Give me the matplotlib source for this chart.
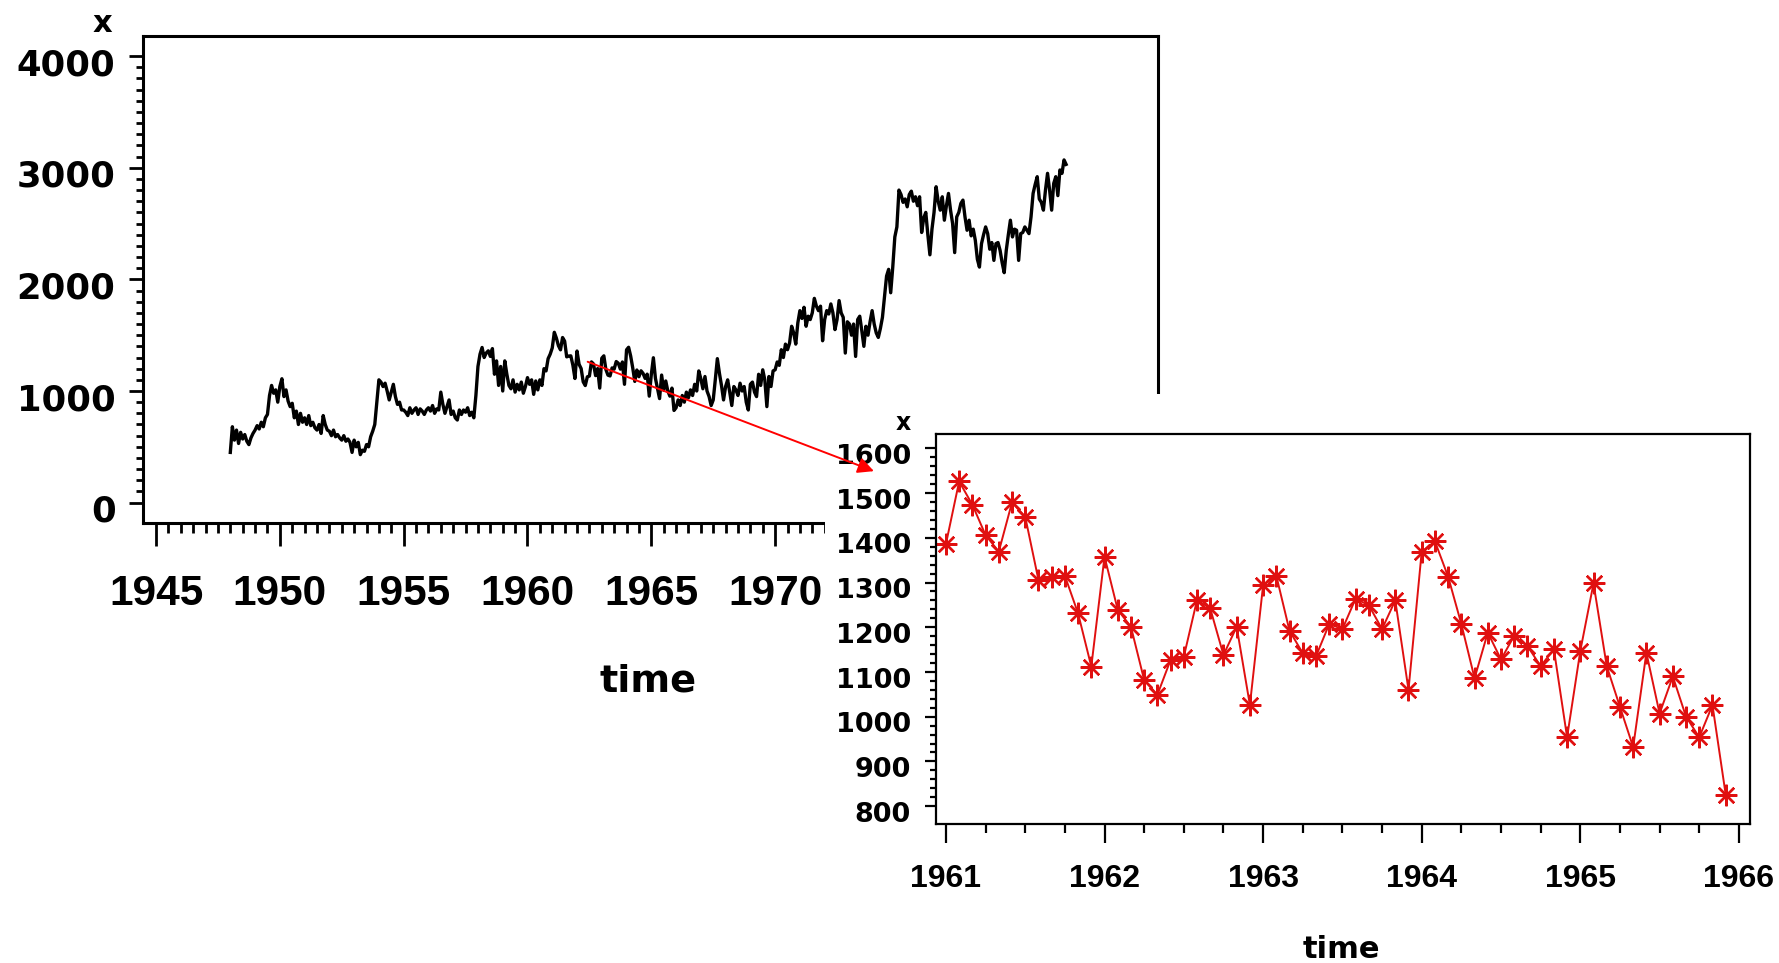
import numpy as np
import matplotlib.pyplot as plt
import matplotlib.transforms as mtransforms
from matplotlib.patches import Rectangle, ConnectionPatch

# monthly series, January 1948 onwards
start_year = 1948

x_1948_1960 = [
    450, 680, 560, 650, 530, 630, 570, 610, 550, 520, 580, 620,      # 1948
    650, 690, 660, 720, 680, 760, 790, 960, 1050, 980, 1010, 900,    # 1949
    1040, 1110, 950, 1010, 910, 860, 890, 760, 820, 700, 800, 720,   # 1950
    760, 700, 780, 690, 720, 670, 650, 700, 620, 780, 700, 650,      # 1951
    640, 600, 650, 590, 610, 580, 560, 600, 550, 570, 540, 450,      # 1952
    560, 500, 540, 430, 470, 460, 520, 500, 590, 640, 700, 900,      # 1953
    1100, 1080, 1040, 1070, 1000, 920, 990, 1060, 950, 880, 900, 830,  # 1954
    830, 810, 780, 850, 800, 830, 850, 790, 840, 820, 790, 830,      # 1955
    850, 820, 870, 800, 840, 830, 990, 880, 800, 860, 920, 790,      # 1956
    820, 760, 740, 830, 790, 830, 810, 850, 780, 810, 760, 960,      # 1957
    1220, 1330, 1390, 1300, 1340, 1360, 1310, 1380, 1150, 1270, 1050, 1220,  # 1958
    1000, 1270, 1150, 1050, 1020, 1100, 990, 1060, 1010, 1080, 980, 1040,    # 1959
    1120, 1060, 1100, 970, 1090, 1010, 1100, 1050, 1200, 1180, 1290, 1330,   # 1960
]

x_1961_1965 = [
    1386, 1526, 1474, 1406, 1369, 1479, 1447, 1306, 1313, 1315, 1231, 1112,  # 1961
    1358, 1239, 1201, 1082, 1049, 1127, 1134, 1261, 1242, 1138, 1201, 1026,  # 1962
    1294, 1315, 1192, 1142, 1135, 1207, 1196, 1264, 1249, 1196, 1260, 1060,  # 1963
    1369, 1392, 1313, 1207, 1086, 1188, 1128, 1181, 1158, 1113, 1151, 954,   # 1964
    1147, 1298, 1113, 1022, 932, 1143, 1007, 1090, 1000, 954, 1026, 826,     # 1965
]

x_1966_1981 = [
    850, 920, 870, 960, 900, 990, 940, 1010, 960, 1060, 1000, 1180,      # 1966
    1110, 1020, 1130, 1000, 950, 870, 920, 1100, 1290, 1160, 1050, 920,  # 1967
    1040, 1100, 990, 870, 1040, 1010, 960, 1070, 1000, 1040, 900, 830,  # 1968
    1060, 1080, 990, 950, 1150, 1050, 1190, 1100, 860, 1130, 1040, 1180,  # 1969
    1190, 1260, 1230, 1370, 1300, 1420, 1370, 1430, 1580, 1520, 1420, 1610,  # 1970
    1720, 1650, 1750, 1580, 1670, 1640, 1700, 1830, 1760, 1720, 1760, 1450,  # 1971
    1640, 1720, 1690, 1780, 1700, 1550, 1640, 1810, 1700, 1660, 1340, 1620,  # 1972
    1600, 1500, 1600, 1310, 1640, 1670, 1540, 1400, 1580, 1500, 1620, 1720,  # 1973
    1600, 1520, 1480, 1560, 1660, 1850, 2030, 2090, 1880, 2110, 2380, 2470,  # 1974
    2800, 2760, 2690, 2720, 2650, 2760, 2790, 2700, 2740, 2660, 2740, 2420,  # 1975
    2550, 2600, 2400, 2220, 2450, 2600, 2830, 2700, 2620, 2740, 2530, 2660,  # 1976
    2770, 2620, 2500, 2240, 2560, 2600, 2680, 2710, 2560, 2440, 2530, 2390,  # 1977
    2450, 2350, 2180, 2110, 2320, 2400, 2470, 2410, 2270, 2330, 2170, 2320,  # 1978
    2330, 2260, 2150, 2060, 2260, 2400, 2530, 2380, 2450, 2440, 2170, 2410,  # 1979
    2420, 2470, 2440, 2410, 2560, 2770, 2850, 2920, 2720, 2690, 2620, 2800,  # 1980
    2950, 2800, 2620, 2860, 2920, 2750, 2980, 2950, 3070, 3030,              # 1981
]

main_xticks = [1945, 1950, 1955, 1960, 1965, 1970, 1975, 1980, 1985]
main_xlabels = ["1945", "1950", "1955", "1960", "1965", "1970", "", "", ""]  # rest hidden under the zoom
main_yticks = [0, 1000, 2000, 3000, 4000]
zoom_xticks = [1961, 1962, 1963, 1964, 1965, 1966]
zoom_yticks = [800, 900, 1000, 1100, 1200, 1300, 1400, 1500, 1600]

values = np.array(x_1948_1960 + x_1961_1965 + x_1966_1981, dtype=float)
time = start_year + np.arange(len(values)) / 12.0
sel = (time >= 1961) & (time < 1966)

ylab_font = dict(family="DejaVu Sans", weight="bold")
xlab_font = dict(family="Liberation Sans", weight="bold")

fig = plt.figure(figsize=(17.79, 9.63), dpi=100)
down = mtransforms.ScaledTranslation(0, -4 / 72, fig.dpi_scale_trans)

# main plot
ax = fig.add_axes([0.0806, 0.4566, 0.5706, 0.5060], zorder=0)
ax.plot(time, values, color="black", lw=2.4)
ax.set_xlim(1944.49, 1985.48)
ax.set_ylim(-185, 4180)
ax.set_xticks(main_xticks)
ax.set_xticks(np.arange(1945.5, 1985, 0.5), minor=True)
ax.set_yticks(main_yticks)
ax.set_yticks(np.arange(0, 4001, 100), minor=True)
ax.set_xticklabels(main_xlabels, fontsize=30.5, **xlab_font)
ax.set_yticklabels([str(t) for t in main_yticks], fontsize=25.5, **ylab_font)
ax.tick_params(axis="x", which="major", direction="out", length=16.5, width=2, pad=20)
ax.tick_params(axis="x", which="minor", direction="out", length=7, width=2)
ax.tick_params(axis="y", which="major", direction="out", length=10, width=2, pad=10)
ax.tick_params(axis="y", which="minor", direction="out", length=5, width=2)
for s in ax.spines.values():
    s.set_linewidth(2.2)
for lbl in ax.get_yticklabels():
    lbl.set_transform(lbl.get_transform() + down)

# white area that hides the lower right of the main plot
fig.add_artist(Rectangle((0.4637, 0.0), 0.5363, 0.5909, transform=fig.transFigure,
                         facecolor="white", edgecolor="none", zorder=1))

# zoomed plot 1961-1965
axin = fig.add_axes([0.5261, 0.1443, 0.4576, 0.4050], zorder=2)
axin.plot(time[sel], values[sel], color="#e01010", lw=1.4,
          marker=(8, 2, 0), markersize=15.5, markeredgewidth=1.7)
axin.set_xlim(1960.937, 1966.07)
axin.set_ylim(760, 1632)
axin.set_xticks(zoom_xticks)
axin.set_xticks(np.arange(1961, 1966.01, 0.25), minor=True)
axin.set_yticks(zoom_yticks)
axin.set_yticks(np.arange(800, 1601, 20), minor=True)
axin.set_xticklabels([str(t) for t in zoom_xticks], fontsize=23, **xlab_font)
axin.set_yticklabels([str(t) for t in zoom_yticks], fontsize=19.5, **ylab_font)
axin.tick_params(axis="x", which="major", direction="out", length=13.5, width=1.6, pad=15)
axin.tick_params(axis="x", which="minor", direction="out", length=6.5, width=1.6)
axin.tick_params(axis="y", which="major", direction="out", length=8, width=1.6, pad=10)
axin.tick_params(axis="y", which="minor", direction="out", length=4.5, width=1.6)
for s in axin.spines.values():
    s.set_linewidth(1.6)
for lbl in axin.get_yticklabels():
    lbl.set_transform(lbl.get_transform() + down)

# arrow from the main series to the zoomed plot
con = ConnectionPatch(xyA=(1962.43, 1262), coordsA=ax.transData,
                      xyB=(1960.546, 1549), coordsB=axin.transData,
                      arrowstyle="-|>", color="red", lw=1.4, mutation_scale=24)
con.set_zorder(3)
fig.add_artist(con)

# axis labels
fig.text(102 / 1779, 1 - 23 / 963, "x", ha="center", va="center", fontsize=22, **ylab_font)
fig.text(648 / 1779, 1 - 681 / 963, "time", ha="center", va="center", fontsize=27.5, **ylab_font)
fig.text(903 / 1779, 1 - 423 / 963, "x", ha="center", va="center", fontsize=17, **ylab_font, zorder=4)
fig.text(1341 / 1779, 1 - 949 / 963, "time", ha="center", va="center", fontsize=22, **ylab_font, zorder=4)

fig.savefig("out.png", dpi=100, facecolor="white")
